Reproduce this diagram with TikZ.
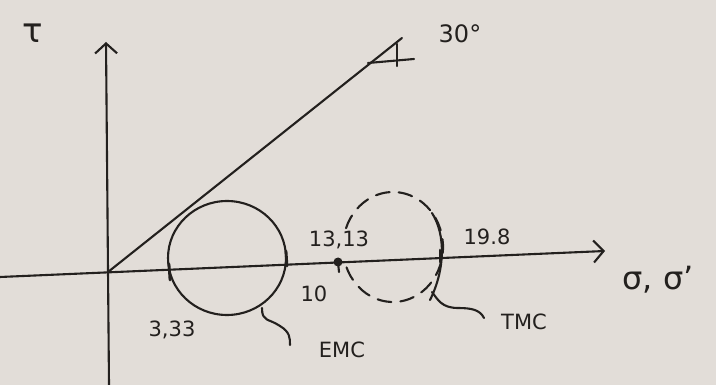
\documentclass[tikz,border=0pt]{standalone}
\usepackage{fontspec}
\setmainfont{DejaVu Sans}
\usetikzlibrary{arrows.meta}
\definecolor{paper}{RGB}{226,221,216}
\definecolor{ink}{RGB}{35,32,30}
\begin{document}
\begin{tikzpicture}[x=1pt,y=-1pt,
  pen/.style={draw=ink,line width=2.1pt,line cap=round,line join=round},
  vtip/.style={-{Straight Barb[length=10pt,width=22pt,line width=2.1pt]}},
  lbl/.style={text=ink,font=\fontsize{21}{21}\selectfont,inner sep=1pt},
  tickmark/.style={pen,line width=2.8pt}]
\fill[paper] (0,0) rectangle (716,385);
\useasboundingbox (0,0) rectangle (716,385);
% axes
\coordinate (vb) at (109,385);
\coordinate (vt) at (106,42);
\coordinate (hl) at (0,277);
\coordinate (hr) at (605,251);
\coordinate (o) at (108,272);
\coordinate (l30) at (402,38);
\draw[pen,vtip] (vb) -- (vt);
\draw[pen,vtip] (hl) -- (hr);
\draw[pen] (o) -- (l30);
\draw[pen] (368,63) -- (414,59);
\draw[pen] (397,44) -- (397,66);
\node[lbl,font=\fontsize{34}{34}\selectfont] (tau) at (33,33) {τ};
\node[lbl,font=\fontsize{24}{24}\selectfont] (ang) at (460,34) {30°};
\node[lbl,font=\fontsize{32}{32}\selectfont] (sig) at (658,280) {σ, σ'};
% EMC circle
\draw[pen] (227,258) ellipse [x radius=59,y radius=57];
\draw[tickmark] (169,264) -- (170,280);
\draw[tickmark] (286,251) -- (287,266);
\node[lbl] (a333) at (172,330) {3,33};
\node[lbl] (a10) at (314,294) {10};
% TMC dashed
\draw[pen,dashed,dash pattern=on 14pt off 9pt] (393,247) ++(200:50 and 55) arc [start angle=200,end angle=520,x radius=50,y radius=55];
\draw[pen] (432,213) .. controls (446,235) and (445,270) .. (430,300);
\fill[ink] (338,262) circle (4.5);
\draw[pen] (338,262) -- (339,272);
\node[lbl] (a1313) at (339,240) {13,13};
\draw[tickmark] (440,250) -- (440,262);
\node[lbl] (a198) at (487,237) {19.8};
% leaders
\draw[pen] (262,308) .. controls (262,322) and (268,318) .. (280,326) .. controls (290,332) and (290,338) .. (290,345);
\node[lbl] (emc) at (342,350) {EMC};
\draw[pen] (432,292) .. controls (438,300) and (442,308) .. (458,308) .. controls (472,308) and (480,310) .. (484,318);
\node[lbl] (tmc) at (524,322) {TMC};
\end{tikzpicture}
\end{document}
